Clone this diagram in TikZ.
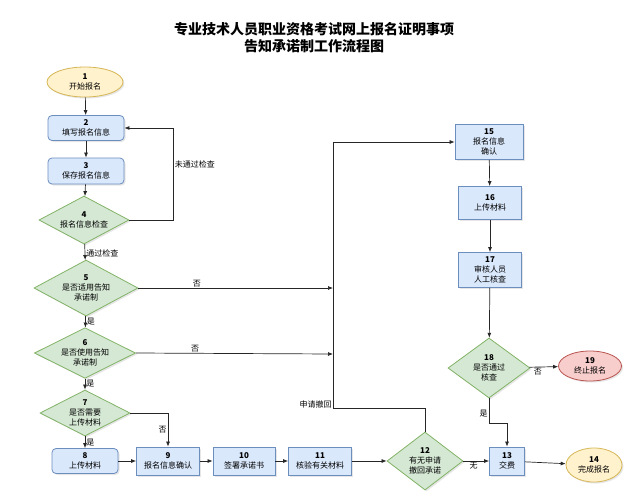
\documentclass[tikz,border=0pt]{standalone}
\usepackage{fontspec}
\setmainfont{Noto Sans CJK SC}
\usetikzlibrary{shapes,arrows.meta,shadows}

\definecolor{boxfill}{HTML}{DAE8FC}
\definecolor{boxline}{HTML}{6C8EBF}
\definecolor{decfill}{HTML}{D5E8D4}
\definecolor{decline}{HTML}{82B366}
\definecolor{endfill}{HTML}{FFF2CC}
\definecolor{endline}{HTML}{D6B656}
\definecolor{stopfill}{HTML}{F8CECC}
\definecolor{stopline}{HTML}{B85450}

\tikzset{
  base/.style={align=center,font=\fontsize{8}{10}\selectfont,line width=0.8pt,
    drop shadow={shadow xshift=1.5pt,shadow yshift=-1.5pt,opacity=0.2}},
  stepbox/.style={base,shape=rectangle,draw=boxline,fill=boxfill,inner sep=0pt},
  roundbox/.style={stepbox,rounded corners=4pt},
  decide/.style={base,shape=diamond,draw=decline,fill=decfill,inner sep=0pt,aspect=2},
  terminal/.style={base,shape=ellipse,draw=endline,fill=endfill,inner sep=0pt},
  stopnode/.style={terminal,draw=stopline,fill=stopfill},
  flow/.style={-{Latex[length=5pt,width=4pt]},draw=black!85,line width=0.7pt},
  note/.style={font=\fontsize{8}{10}\selectfont,inner sep=1pt}
}

\begin{document}
\begin{tikzpicture}[x=1pt,y=-1pt]
\useasboundingbox (0,0) rectangle (636,495);

\node[align=center,font=\fontsize{14}{17}\selectfont\bfseries] (title) at (314,38) {专业技术人员职业资格考试网上报名证明事项\\告知承诺制工作流程图};

\node[terminal,minimum width=76,minimum height=30] (n1) at (85,82) {\textbf{1}\\开始报名};
\node[roundbox,minimum width=76,minimum height=25] (n2) at (86,128) {\textbf{2}\\填写报名信息};
\node[roundbox,minimum width=76,minimum height=26] (n3) at (86,171) {\textbf{3}\\保存报名信息};
\node[decide,minimum width=90,minimum height=48] (n4) at (84,220) {\textbf{4}\\报名信息检查};
\node[decide,minimum width=104,minimum height=56] (n5) at (86,288) {\textbf{5}\\是否适用告知\\承诺制};
\node[decide,minimum width=92,minimum height=50] (n6) at (85,353) {\textbf{6}\\是否使用告知\\承诺制};
\node[decide,minimum width=90,minimum height=46] (n7) at (85,413) {\textbf{7}\\是否需要\\上传材料};
\node[roundbox,minimum width=66,minimum height=25] (n8) at (85,461) {\textbf{8}\\上传材料};
\node[stepbox,minimum width=63,minimum height=28] (n9) at (168,461) {\textbf{9}\\报名信息确认};
\node[stepbox,minimum width=62,minimum height=28] (n10) at (244,461) {\textbf{10}\\签署承诺书};
\node[stepbox,minimum width=63,minimum height=28] (n11) at (320,461) {\textbf{11}\\核验有关材料};
\node[decide,aspect=1.3,minimum width=76,minimum height=58] (n12) at (425,461) {\textbf{12}\\有无申请\\撤回承诺};
\node[stepbox,minimum width=35,minimum height=28] (n13) at (507,461) {\textbf{13}\\交费};
\node[terminal,minimum width=56,minimum height=34] (n14) at (594,465) {\textbf{14}\\完成报名};
\node[stepbox,minimum width=68,minimum height=35] (n15) at (489,142) {\textbf{15}\\报名信息\\确认};
\node[stepbox,minimum width=63,minimum height=33] (n16) at (490,203) {\textbf{16}\\上传材料};
\node[stepbox,minimum width=63,minimum height=35] (n17) at (490,270) {\textbf{17}\\审核人员\\人工核查};
\node[decide,aspect=1.5,minimum width=82,minimum height=60] (n18) at (489,368) {\textbf{18}\\是否通过\\核查};
\node[stopnode,minimum width=63,minimum height=30] (n19) at (590,366) {\textbf{19}\\终止报名};

\coordinate (j5) at (333,288);
\coordinate (j6) at (333,354);
\coordinate (back) at (333,408);

\draw[flow] (n1) -- (n2);
\draw[flow] (n2) -- (n3);
\draw[flow] (n3) -- (n4);
\draw[flow] (n4.east) -- ++(44,0) |- node[note,pos=0.3,right] {未通过检查} (n2.east);
\draw[flow] (n4) -- node[note,right,pos=0.6] {通过检查} (n5);
\draw[flow] (n5) -- node[note,right,pos=0.45] {是} (n6);
\draw[flow] (n6) -- node[note,right,pos=0.45] {是} (n7);
\draw[flow] (n7) -- node[note,right,pos=0.5] {是} (n8);
\draw[flow] (n7.east) -| node[note,left,pos=0.75] {否} (n9.north);
\draw[flow] (n5.east) -- node[note,above,pos=0.3] {否} (j5);
\draw[flow] (n6.east) -- node[note,above,pos=0.3] {否} (j6);
\draw[flow] (n12.north) |- (back) node[note,above left,yshift=-1pt] {申请撤回} |- (n15.west);
\draw[flow] (n8) -- (n9);
\draw[flow] (n9) -- (n10);
\draw[flow] (n10) -- (n11);
\draw[flow] (n11) -- (n12);
\draw[flow] (n12) -- node[note,below,pos=0.4] {无} (n13);
\draw[flow] (n13) -- (n14);
\draw[flow] (n15) -- (n16);
\draw[flow] (n16) -- (n17);
\draw[flow] (n17) -- (n18);
\draw[flow] (n18) -- node[note,below,pos=0.3] {否} (n19);
\draw[flow] (n18.south) -- ++(0,25) node[note,left,pos=0.6] {是} -| (n13.north);
\end{tikzpicture}
\end{document}
